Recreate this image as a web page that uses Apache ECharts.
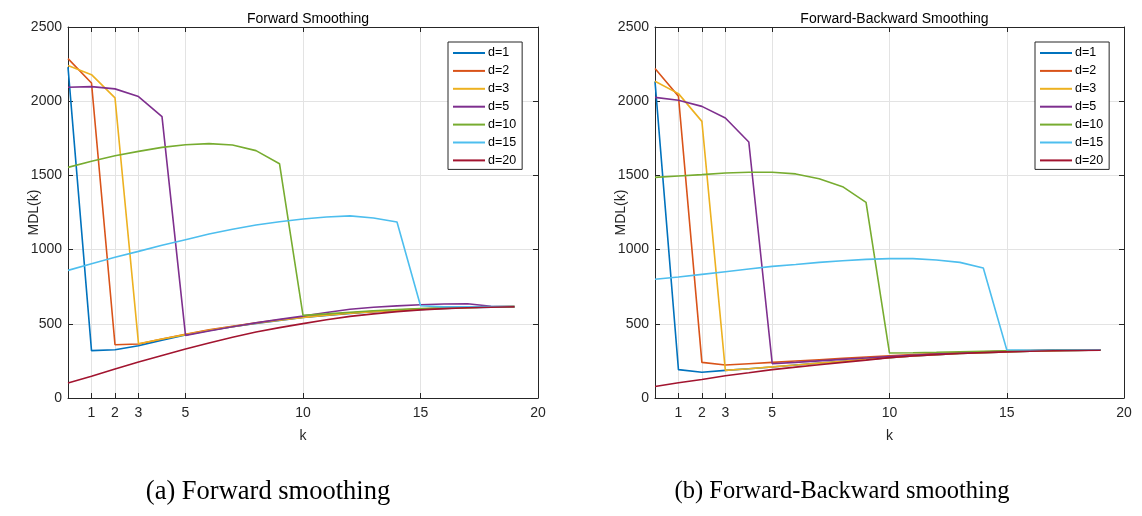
<!DOCTYPE html>
<html>
<head>
<meta charset="utf-8">
<script src="https://cdn.jsdelivr.net/npm/echarts@6/dist/echarts.min.js"></script>
<style>
html,body{margin:0;padding:0;background:#fff;}
#chart{width:1142px;height:516px;}
</style>
</head>
<body>
<div id="chart"></div>
<script>
// ---- data ----
const kValues = [0,1,2,3,4,5,6,7,8,9,10,11,12,13,14,15,16,17,18,19];
const seriesNames = ['d=1','d=2','d=3','d=5','d=10','d=15','d=20'];
const xTickValues = [1,2,3,5,10,15,20];
const titles = ['Forward Smoothing','Forward-Backward Smoothing'];
const captions = ['(a) Forward smoothing','(b) Forward-Backward smoothing'];

// Forward smoothing
const fwd_d1  = [2230,319,325,352,390,425,455,480,503,523,542,557,570,581,590,597,603,608,612,615];
const fwd_d2  = [2287,2123,359,364,398,430,459,484,507,527,545,560,573,584,593,600,606,611,614,616];
const fwd_d3  = [2240,2179,2022,366,397,427,456,481,504,524,543,558,571,582,591,598,604,609,613,616];
const fwd_d5  = [2094,2098,2083,2031,1896,422,452,480,506,530,552,576,598,612,621,628,633,635,618,616];
const fwd_d10 = [1554,1595,1633,1662,1689,1707,1714,1705,1667,1579,557,567,578,588,596,603,608,612,614,616];
const fwd_d15 = [860,905,948,988,1029,1067,1105,1137,1166,1188,1206,1220,1227,1213,1186,622,614,615,616,617];
const fwd_d20 = [101,146,195,243,287,330,371,409,445,474,501,527,550,567,582,594,602,608,612,615];

// Forward-Backward smoothing
const fb_d1  = [2134,191,173,186,197,209,222,235,248,260,272,283,292,300,306,311,315,318,321,323];
const fb_d2  = [2220,2033,240,222,231,240,249,258,267,276,285,293,300,306,311,315,318,321,323,324];
const fb_d3  = [2134,2051,1864,186,197,210,222,235,248,260,272,283,292,300,306,311,315,318,321,323];
const fb_d5  = [2026,2006,1965,1887,1725,231,240,250,260,270,280,288,296,303,310,316,320,324,325,324];
const fb_d10 = [1487,1496,1505,1516,1521,1521,1510,1478,1424,1318,303,305,308,312,315,318,320,322,323,324];
const fb_d15 = [800,815,833,851,869,887,900,914,925,934,939,939,930,914,876,325,322,322,323,324];
const fb_d20 = [78,103,125,150,170,191,208,224,240,255,272,283,292,300,306,311,315,318,320,322];

const fwdData = [fwd_d1,fwd_d2,fwd_d3,fwd_d5,fwd_d10,fwd_d15,fwd_d20];
const fbData  = [fb_d1,fb_d2,fb_d3,fb_d5,fb_d10,fb_d15,fb_d20];

// ---- style ----
const colors = ['#0072BD','#D95319','#EDB120','#7E2F8E','#77AC30','#4DBEEE','#A2142F'];
const FONT = 'Liberation Sans';
const AXIS_COLOR = '#262626';
const GRID_COLOR = '#e3e3e3';

const grids = [
  {left: 68, top: 27, width: 470, height: 371},
  {left: 655, top: 27, width: 469, height: 371}
];

const xAxes = [], yAxes = [], series = [], titleOpts = [], legends = [], graphics = [];
const legendPos = [{left: 448, top: 42}, {left: 1035, top: 42}];
const captionX = [268, 842];

[fwdData, fbData].forEach((dataSet, gi) => {
  const g = grids[gi];
  xAxes.push({
    gridIndex: gi, type: 'value', min: 0, max: 20, position: 'bottom',
    name: 'k', nameLocation: 'middle', nameGap: 31, nameMoveOverlap: false,
    nameTextStyle: {fontFamily: FONT, fontSize: 14, color: AXIS_COLOR},
    axisLine: {show: true, onZero: false, lineStyle: {color: AXIS_COLOR, width: 1}},
    axisTick: {show: true, inside: true, length: 5, customValues: xTickValues, lineStyle: {color: AXIS_COLOR}},
    axisLabel: {show: true, customValues: xTickValues, fontFamily: FONT, fontSize: 14, color: AXIS_COLOR, margin: 8},
    splitLine: {show: true, lineStyle: {color: GRID_COLOR, width: 1}}
  });
  xAxes.push({
    gridIndex: gi, type: 'value', min: 0, max: 20, position: 'top',
    axisLine: {show: true, onZero: false, lineStyle: {color: AXIS_COLOR, width: 1}},
    axisTick: {show: true, inside: true, length: 5, customValues: xTickValues, lineStyle: {color: AXIS_COLOR}},
    axisLabel: {show: false},
    splitLine: {show: false}
  });
  yAxes.push({
    gridIndex: gi, type: 'value', min: 0, max: 2500, interval: 500, position: 'left',
    name: 'MDL(k)', nameLocation: 'middle', nameGap: 27, nameRotate: 90, nameMoveOverlap: false,
    nameTextStyle: {fontFamily: FONT, fontSize: 14, color: AXIS_COLOR},
    axisLine: {show: true, onZero: false, lineStyle: {color: AXIS_COLOR, width: 1}},
    axisTick: {show: true, inside: true, length: 5, lineStyle: {color: AXIS_COLOR}},
    axisLabel: {show: true, fontFamily: FONT, fontSize: 14, color: AXIS_COLOR, margin: 6,
      formatter: v => String(v)},
    splitLine: {show: true, lineStyle: {color: GRID_COLOR, width: 1}}
  });
  yAxes.push({
    gridIndex: gi, type: 'value', min: 0, max: 2500, interval: 500, position: 'right',
    axisLine: {show: true, onZero: false, lineStyle: {color: AXIS_COLOR, width: 1}},
    axisTick: {show: true, inside: true, length: 5, lineStyle: {color: AXIS_COLOR}},
    axisLabel: {show: false},
    splitLine: {show: false}
  });

  dataSet.forEach((vals, si) => {
    series.push({
      type: 'line', name: seriesNames[si],
      xAxisIndex: gi * 2, yAxisIndex: gi * 2,
      data: kValues.map((k, i) => [k, vals[i]]),
      symbol: 'none', showSymbol: false, smooth: false,
      lineStyle: {color: colors[si], width: 1.6},
      itemStyle: {color: colors[si]},
      animation: false
    });
  });

  titleOpts.push({
    text: titles[gi], left: g.left + g.width / 2, top: 7, textAlign: 'center',
    textStyle: {fontFamily: FONT, fontSize: 14, fontWeight: 'normal', color: '#000'}
  });

  legends.push({
    data: seriesNames.map(n => ({name: n, icon: 'rect'})), orient: 'vertical',
    left: legendPos[gi].left, top: legendPos[gi].top,
    itemWidth: 32, itemHeight: 2, itemGap: 3.9,
    padding: [4, 6, 2, 5],
    backgroundColor: '#fff', borderColor: AXIS_COLOR, borderWidth: 1, borderRadius: 0,
    textStyle: {fontFamily: FONT, fontSize: 12.5, lineHeight: 14, color: '#000', padding: [0, 0, 0, -2]},
    selectedMode: false
  });

  graphics.push({
    type: 'text',
    style: {
      text: captions[gi],
      x: captionX[gi], y: 492,
      textAlign: 'center', textVerticalAlign: 'middle',
      fontFamily: 'Liberation Serif', fontSize: [26.5, 24.5][gi], fill: '#000'
    }
  });
});

const chart = echarts.init(document.getElementById('chart'), null, {renderer: 'canvas'});
chart.setOption({
  animation: false,
  color: colors,
  title: titleOpts,
  legend: legends,
  grid: grids,
  xAxis: xAxes,
  yAxis: yAxes,
  series: series,
  graphic: graphics
});
</script>
</body>
</html>
